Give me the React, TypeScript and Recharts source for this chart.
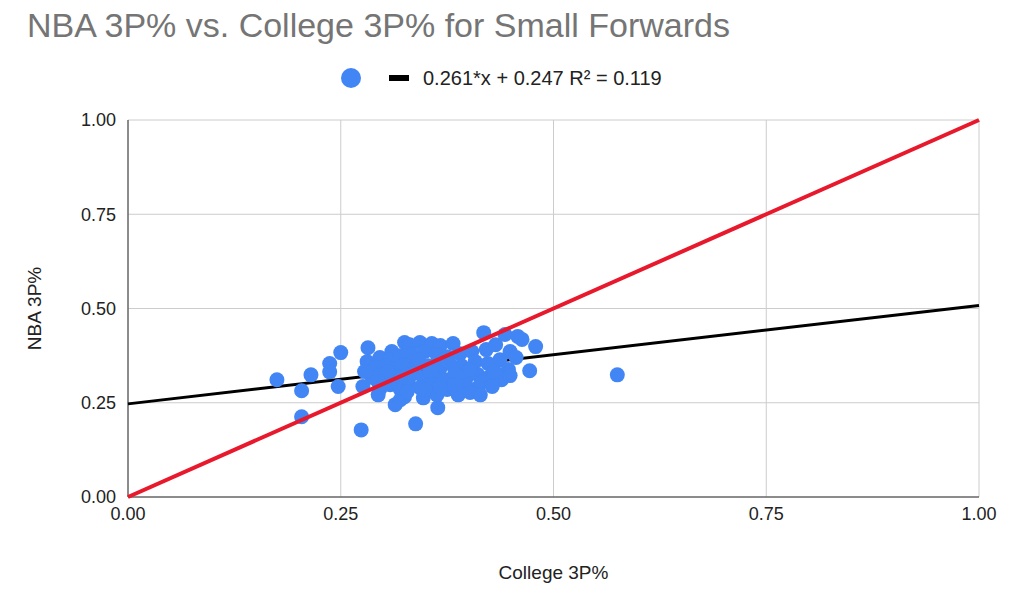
import React from "react"
import { ScatterChart, Scatter, XAxis, YAxis, CartesianGrid } from "recharts"

// College 3P% (x) vs NBA 3P% (y)
const outliers = [
  { x: 0.175, y: 0.311 }, { x: 0.204, y: 0.282 }, { x: 0.204, y: 0.213 },
  { x: 0.215, y: 0.324 }, { x: 0.237, y: 0.354 }, { x: 0.237, y: 0.332 },
  { x: 0.247, y: 0.293 }, { x: 0.25, y: 0.383 }, { x: 0.274, y: 0.178 },
  { x: 0.338, y: 0.194 }, { x: 0.364, y: 0.237 }, { x: 0.575, y: 0.324 },
]

const clusterTop = [
  { x: 0.282, y: 0.396 }, { x: 0.31, y: 0.386 }, { x: 0.325, y: 0.41 },
  { x: 0.331, y: 0.404 }, { x: 0.343, y: 0.41 }, { x: 0.357, y: 0.407 },
  { x: 0.367, y: 0.402 }, { x: 0.382, y: 0.407 }, { x: 0.418, y: 0.436 },
  { x: 0.443, y: 0.431 }, { x: 0.458, y: 0.426 }, { x: 0.463, y: 0.418 },
  { x: 0.479, y: 0.399 },
  { x: 0.281, y: 0.359 }, { x: 0.296, y: 0.37 }, { x: 0.308, y: 0.364 },
  { x: 0.32, y: 0.375 }, { x: 0.334, y: 0.378 }, { x: 0.349, y: 0.386 },
  { x: 0.363, y: 0.378 }, { x: 0.375, y: 0.372 }, { x: 0.39, y: 0.38 },
  { x: 0.404, y: 0.386 }, { x: 0.421, y: 0.391 }, { x: 0.432, y: 0.404 },
  { x: 0.449, y: 0.386 }, { x: 0.456, y: 0.37 },
]

const clusterMid = [
  { x: 0.29, y: 0.343 }, { x: 0.302, y: 0.348 }, { x: 0.314, y: 0.338 },
  { x: 0.325, y: 0.351 }, { x: 0.337, y: 0.343 }, { x: 0.353, y: 0.348 },
  { x: 0.367, y: 0.343 }, { x: 0.378, y: 0.354 }, { x: 0.392, y: 0.348 },
  { x: 0.408, y: 0.359 }, { x: 0.423, y: 0.354 }, { x: 0.437, y: 0.364 },
  { x: 0.447, y: 0.338 }, { x: 0.472, y: 0.335 },
  { x: 0.287, y: 0.317 }, { x: 0.3, y: 0.325 }, { x: 0.311, y: 0.311 },
  { x: 0.323, y: 0.319 }, { x: 0.335, y: 0.327 }, { x: 0.347, y: 0.317 },
  { x: 0.358, y: 0.322 }, { x: 0.373, y: 0.311 }, { x: 0.384, y: 0.327 },
  { x: 0.398, y: 0.317 }, { x: 0.411, y: 0.325 }, { x: 0.425, y: 0.319 },
  { x: 0.439, y: 0.311 }, { x: 0.449, y: 0.322 },
  { x: 0.341, y: 0.364 }, { x: 0.355, y: 0.333 }, { x: 0.371, y: 0.364 },
  { x: 0.402, y: 0.338 }, { x: 0.416, y: 0.306 }, { x: 0.317, y: 0.317 },
  { x: 0.306, y: 0.333 }, { x: 0.39, y: 0.317 }, { x: 0.431, y: 0.333 },
  { x: 0.278, y: 0.333 }, { x: 0.294, y: 0.306 },
]

const clusterLow = [
  { x: 0.276, y: 0.293 }, { x: 0.296, y: 0.287 }, { x: 0.308, y: 0.298 },
  { x: 0.32, y: 0.285 }, { x: 0.331, y: 0.295 }, { x: 0.343, y: 0.29 },
  { x: 0.357, y: 0.298 }, { x: 0.375, y: 0.285 }, { x: 0.387, y: 0.277 },
  { x: 0.396, y: 0.295 }, { x: 0.411, y: 0.29 }, { x: 0.428, y: 0.293 },
  { x: 0.294, y: 0.271 }, { x: 0.314, y: 0.245 }, { x: 0.32, y: 0.258 },
  { x: 0.325, y: 0.266 }, { x: 0.347, y: 0.263 }, { x: 0.363, y: 0.271 },
  { x: 0.388, y: 0.271 }, { x: 0.402, y: 0.277 }, { x: 0.414, y: 0.271 },
  { x: 0.384, y: 0.298 }, { x: 0.328, y: 0.279 }, { x: 0.349, y: 0.285 },
  { x: 0.367, y: 0.29 },
]

const players = [...outliers, ...clusterTop, ...clusterMid, ...clusterLow]

// trendline y = 0.261x + 0.247, and the y = x reference
const trendSlope = 0.261
const trendIntercept = 0.247
const trendLine = [0, 1].map((x) => ({ x, y: trendSlope * x + trendIntercept }))
const identityLine = [{ x: 0, y: 0 }, { x: 1, y: 1 }]

const ticks = [0, 0.25, 0.5, 0.75, 1]

const FONT = "Arial, 'Liberation Sans', sans-serif"

const Dot = (props: any) => <circle cx={props.cx} cy={props.cy} r={7.5} fill="#4285f4" />
const NoDot = () => null

export default function App() {
  return (
    <div style={{ position: "absolute", left: 0, top: 0, width: 1023, height: 607, background: "#fff", fontFamily: FONT }}>
      <div style={{ position: "absolute", left: 27, top: 6, fontSize: 34, color: "#757575", whiteSpace: "nowrap" }}>
        NBA 3P% vs. College 3P% for Small Forwards
      </div>
      {/* legend */}
      <div style={{ position: "absolute", left: 341, top: 66, height: 24, display: "flex", alignItems: "center", fontSize: 20, color: "#222", whiteSpace: "nowrap" }}>
        <svg width={20} height={22} style={{ marginRight: 28 }}>
          <circle cx={10} cy={11} r={10} fill="#4285f4" />
        </svg>
        <svg width={20} height={10} style={{ marginRight: 14 }}>
          <rect x={0} y={2} width={20} height={6} fill="#000" />
        </svg>
        <span>0.261*x + 0.247 R² = 0.119</span>
      </div>
      <ScatterChart width={1023} height={607} margin={{ top: 120, right: 44, bottom: 0, left: 0 }}>
        <CartesianGrid stroke="#cccccc" strokeWidth={1} />
        <XAxis
          type="number"
          dataKey="x"
          domain={[0, 1]}
          ticks={ticks}
          tickFormatter={(v: number) => v.toFixed(2)}
          height={110}
          stroke="#333"
          tickLine={false}
          tick={{ fill: "#222", fontSize: 18, fontFamily: FONT }}
          tickMargin={4}
          label={{ value: "College 3P%", position: "insideBottom", offset: 28, fill: "#222", fontSize: 19, fontFamily: FONT }}
        />
        <YAxis
          type="number"
          dataKey="y"
          domain={[0, 1]}
          ticks={ticks}
          tickFormatter={(v: number) => v.toFixed(2)}
          width={128}
          stroke="#333"
          tickLine={false}
          tick={{ fill: "#222", fontSize: 18, fontFamily: FONT }}
          tickMargin={6}
          label={{ value: "NBA 3P%", angle: -90, position: "insideLeft", offset: 34, fill: "#222", fontSize: 19, fontFamily: FONT, style: { textAnchor: "middle" } }}
        />
        <Scatter data={trendLine} line={{ stroke: "#000", strokeWidth: 3 }} shape={<NoDot />} isAnimationActive={false} />
        <Scatter data={players} shape={<Dot />} isAnimationActive={false} />
        <Scatter data={identityLine} line={{ stroke: "#e8192c", strokeWidth: 4 }} shape={<NoDot />} isAnimationActive={false} />
      </ScatterChart>
    </div>
  )
}
